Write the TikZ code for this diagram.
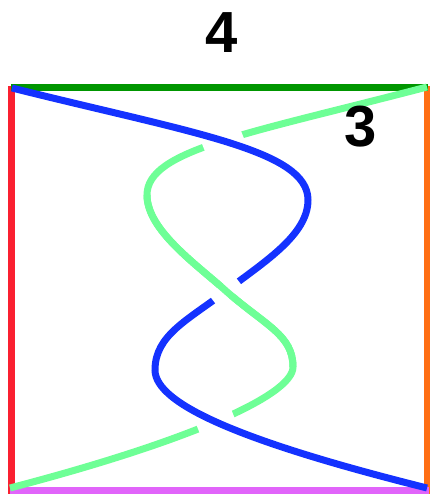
\documentclass[tikz,border=0pt]{standalone}
\usepackage{fontspec}
\setmainfont{Liberation Sans}
\usetikzlibrary{intersections}
\definecolor{fred}{RGB}{250,32,48}
\definecolor{fdkgreen}{RGB}{0,150,0}
\definecolor{forange}{RGB}{255,110,20}
\definecolor{fmagenta}{RGB}{225,100,250}
\definecolor{kblue}{RGB}{20,50,255}
\definecolor{kgreen}{RGB}{110,255,150}
\begin{document}
\begin{tikzpicture}[x=1pt,y=-1pt,
  edge/.style={line width=7pt, line cap=butt},
  strand/.style={line width=7pt, line cap=butt},
  gap/.style={fill=white, draw=none, inner sep=0pt, minimum height=15pt},
  lbl/.style={font=\bfseries\fontsize{58}{58}\selectfont, inner sep=0pt}]
\useasboundingbox (0,0) rectangle (429,495);
% frame
\coordinate (tl) at (11.5,86);
\coordinate (bl) at (11.5,494);
\coordinate (tr) at (427,86);
\coordinate (br) at (427,494);
\draw[edge, fred] (tl) -- (bl);
\draw[edge, forange] (tr) -- (br);
\coordinate (tgl) at (11,87.5);
\coordinate (tgr) at (428,87.5);
\draw[edge, fdkgreen] (tgl) -- (tgr);
\coordinate (bml) at (10,490.5);
\coordinate (bmr) at (429,490.5);
\draw[edge, fmagenta] (bml) -- (bmr);
% knot points
\coordinate (b0) at (12,88);
\coordinate (b1) at (308,200);
\coordinate (b2) at (226,291);
\coordinate (b3) at (155,370);
\coordinate (b4) at (427,488);
\coordinate (g0) at (427,87);
\coordinate (g1) at (147,195);
\coordinate (g3) at (293,367);
\coordinate (g4) at (10,488);
% helper paths for crossings
\path[name path=btop] (b0) .. controls (192,133) and (308,150) .. (b1);
\path[name path=gtop] (g0) .. controls (247,134) and (147,150) .. (g1);
\path[name path=bbot] (b3) .. controls (155,405) and (247,443) .. (b4);
\path[name path=gbot] (g3) .. controls (293,395) and (190,441) .. (g4);
\path[name intersections={of=btop and gtop, name=xt}];
\path[name intersections={of=bbot and gbot, name=xb}];
% green strand (full)
\draw[strand, kgreen] (g0) .. controls (247,134) and (147,150) .. (g1)
  .. controls (147,230) and (196,264) .. (b2)
  .. controls (266,326) and (293,335) .. (g3)
  .. controls (293,395) and (190,441) .. (g4);
% gaps in green under blue
\node[gap, minimum width=41pt, rotate=21.5] (gapt) at (xt-1) {};
\node[gap, minimum width=38pt, rotate=21.8] (gapb) at (xb-1) {};
% blue strand
\draw[strand, kblue] (b0) .. controls (192,133) and (308,150) .. (b1)
  .. controls (308,235) and (264,262) .. (b2)
  .. controls (188,320) and (155,335) .. (b3)
  .. controls (155,405) and (247,443) .. (b4);
% gap in blue under green
\node[gap, minimum width=32pt, rotate=37.3] (gapm) at (b2) {};
% green over blue in the middle
\draw[strand, kgreen] (g1) .. controls (147,230) and (196,264) .. (b2)
  .. controls (266,326) and (293,335) .. (g3);
% labels
\node[lbl] (l4) at (222,33) {4};
\node[lbl] (l3) at (361,127) {3};
\end{tikzpicture}
\end{document}
